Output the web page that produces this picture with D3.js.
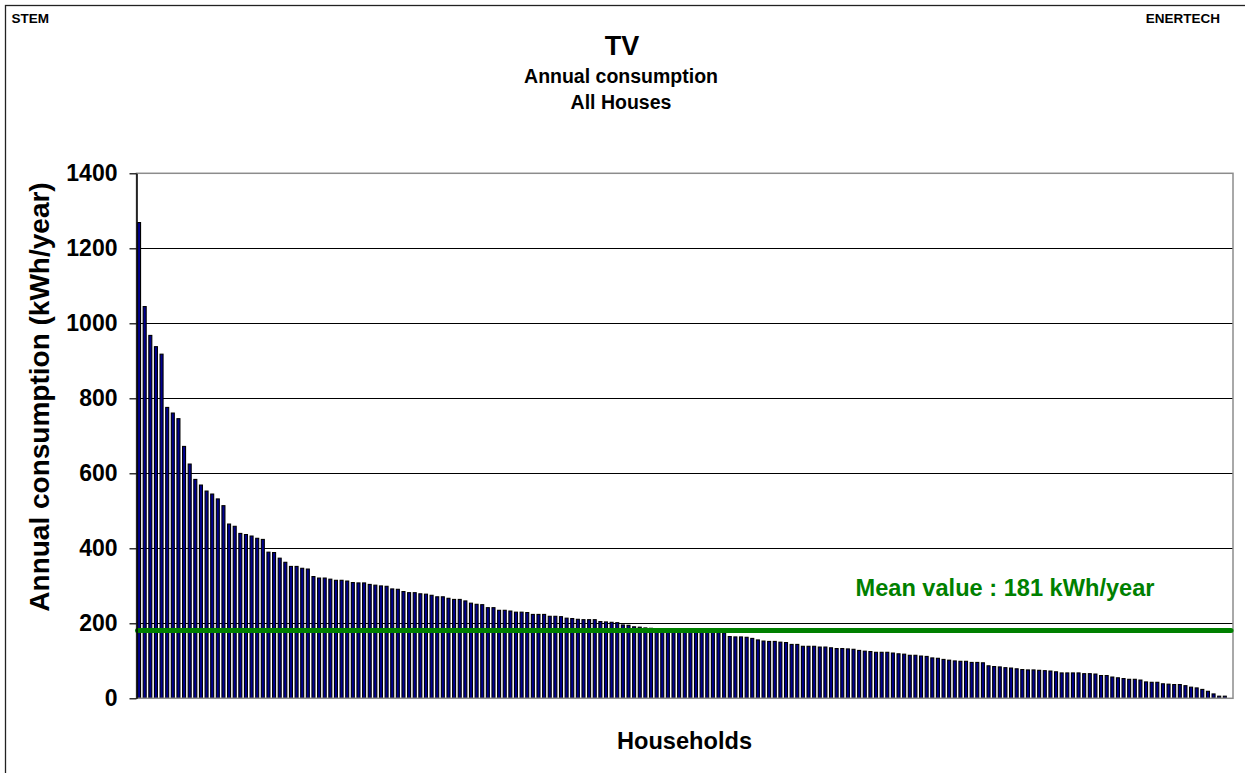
<!DOCTYPE html>
<html>
<head>
<meta charset="utf-8">
<script src="https://cdn.jsdelivr.net/npm/d3@7"></script>
<style>
  html, body { margin: 0; padding: 0; background: #fff; }
  svg { display: block; }
  text { font-family: Arial, "Liberation Sans", Helvetica, sans-serif; font-weight: bold; }
</style>
</head>
<body>
<svg id="chart" width="1245" height="773"></svg>
<script>
// ---- data ----
const values = [
  1270, 1046, 969, 939, 919, 777, 762, 747, 673, 626,
  585, 570, 554, 546, 533, 515, 466, 460, 441, 438,
  434, 428, 425, 391, 390, 375, 364, 353, 353, 348,
  346, 326, 322, 322, 319, 316, 316, 314, 310, 309,
  309, 305, 303, 301, 300, 293, 292, 286, 283, 283,
  280, 279, 276, 272, 272, 268, 265, 265, 261, 255,
  252, 251, 243, 243, 236, 236, 234, 231, 231, 230,
  225, 225, 225, 220, 220, 219, 215, 214, 212, 211,
  211, 211, 206, 205, 204, 203, 197, 196, 192, 191,
  189, 188, 187, 186, 185, 184, 183, 182, 181, 180,
  179, 178, 178, 177, 176, 166, 165, 165, 164, 161,
  157, 154, 153, 153, 151, 150, 145, 145, 140, 140,
  140, 138, 138, 136, 134, 134, 133, 132, 129, 127,
  126, 124, 124, 124, 122, 120, 119, 116, 116, 114,
  113, 109, 108, 105, 103, 101, 100, 100, 97, 97,
  96, 88, 86, 85, 83, 82, 80, 78, 77, 77,
  76, 75, 74, 72, 69, 69, 69, 69, 67, 67,
  66, 62, 62, 58, 56, 54, 52, 52, 50, 45,
  44, 44, 40, 39, 38, 38, 35, 31, 29, 25,
  20, 13, 7, 7, 0
];
const categories = values.map((_, i) => "H" + (i + 1));
const yTickValues = [0, 200, 400, 600, 800, 1000, 1200, 1400];
const meanValue = 181;
const meanLabel = "Mean value : 181 kWh/year";
const titleText = "TV";
const subtitleLines = ["Annual consumption", "All Houses"];
const yAxisTitle = "Annual consumption (kWh/year)";
const xAxisTitle = "Households";
const cornerLeft = "STEM";
const cornerRight = "ENERTECH";

// ---- layout ----
const svg = d3.select("#chart");
const plot = { left: 136.5, right: 1233, top: 173.3, bottom: 698.3 };

const x = d3.scaleBand()
  .domain(categories)
  .range([plot.left, plot.right])
  .paddingInner(0.29)
  .paddingOuter(0.1);

const y = d3.scaleLinear()
  .domain([0, 1400])
  .range([plot.bottom, plot.top]);

// outer frame (extends past the window on right/bottom)
svg.append("rect")
  .attr("x", 5.5).attr("y", 5.5)
  .attr("width", 1300).attr("height", 820)
  .attr("fill", "none").attr("stroke", "#222").attr("stroke-width", 1.3);

// corner labels
svg.append("text").attr("x", 11.5).attr("y", 22.7)
  .attr("font-size", 13.5).attr("fill", "#000").text(cornerLeft);
svg.append("text").attr("x", 1220).attr("y", 22.7)
  .attr("text-anchor", "end")
  .attr("font-size", 13.5).attr("fill", "#000").text(cornerRight);

// titles
svg.append("text").attr("x", 622).attr("y", 55)
  .attr("text-anchor", "middle").attr("font-size", 27).text(titleText);
subtitleLines.forEach((t, i) => {
  svg.append("text").attr("x", 621).attr("y", 83 + i * 26)
    .attr("text-anchor", "middle").attr("font-size", 19.5).text(t);
});

// gridlines
svg.append("g")
  .selectAll("line")
  .data(yTickValues.filter(v => v > 0 && v < 1400))
  .join("line")
  .attr("x1", plot.left).attr("x2", plot.right)
  .attr("y1", d => Math.round(y(d)) + 0.5)
  .attr("y2", d => Math.round(y(d)) + 0.5)
  .attr("stroke", "#000").attr("stroke-width", 1);

// bars
svg.append("g")
  .selectAll("rect")
  .data(values)
  .join("rect")
  .attr("x", (d, i) => x(categories[i]) + 0.5)
  .attr("width", x.bandwidth() - 1)
  .attr("y", d => y(d) + 0.5)
  .attr("height", d => Math.max(0, y(0) - y(d) - 0.5))
  .attr("fill", "#000090")
  .attr("stroke", "#000")
  .attr("stroke-width", 1.1);

// plot frame (gray top/right/bottom)
svg.append("rect")
  .attr("x", plot.left).attr("y", plot.top)
  .attr("width", plot.right - plot.left)
  .attr("height", plot.bottom - plot.top)
  .attr("fill", "none").attr("stroke", "#8c8c8c").attr("stroke-width", 1.5);

// mean line
svg.append("line")
  .attr("x1", plot.left + 1).attr("x2", plot.right - 2)
  .attr("y1", y(meanValue)).attr("y2", y(meanValue))
  .attr("stroke", "#008000").attr("stroke-width", 5)
  .attr("stroke-linecap", "round");

svg.append("text")
  .attr("x", 855.5).attr("y", 596)
  .attr("font-size", 23.6).attr("fill", "#008000")
  .text(meanLabel);

// y axis
const yAxis = d3.axisLeft(y)
  .tickValues(yTickValues)
  .tickFormat(d3.format("d"))
  .tickSize(7)
  .tickPadding(12)
  .tickSizeOuter(0);
const gy = svg.append("g")
  .attr("transform", `translate(${plot.left},0)`)
  .call(yAxis);
gy.select(".domain").attr("stroke", "#000").attr("stroke-width", 1.5);
gy.selectAll(".tick line").attr("stroke", "#000").attr("stroke-width", 1.2);
gy.selectAll(".tick text")
  .attr("font-size", 23)
  .attr("font-family", 'Arial, "Liberation Sans", sans-serif')
  .attr("font-weight", "bold")
  .attr("fill", "#000");

// axis titles
svg.append("text")
  .attr("transform", "translate(49,397) rotate(-90)")
  .attr("text-anchor", "middle")
  .attr("font-size", 28).text(yAxisTitle);

svg.append("text")
  .attr("x", 684.5).attr("y", 749)
  .attr("text-anchor", "middle")
  .attr("font-size", 23.6).text(xAxisTitle);
</script>
</body>
</html>
